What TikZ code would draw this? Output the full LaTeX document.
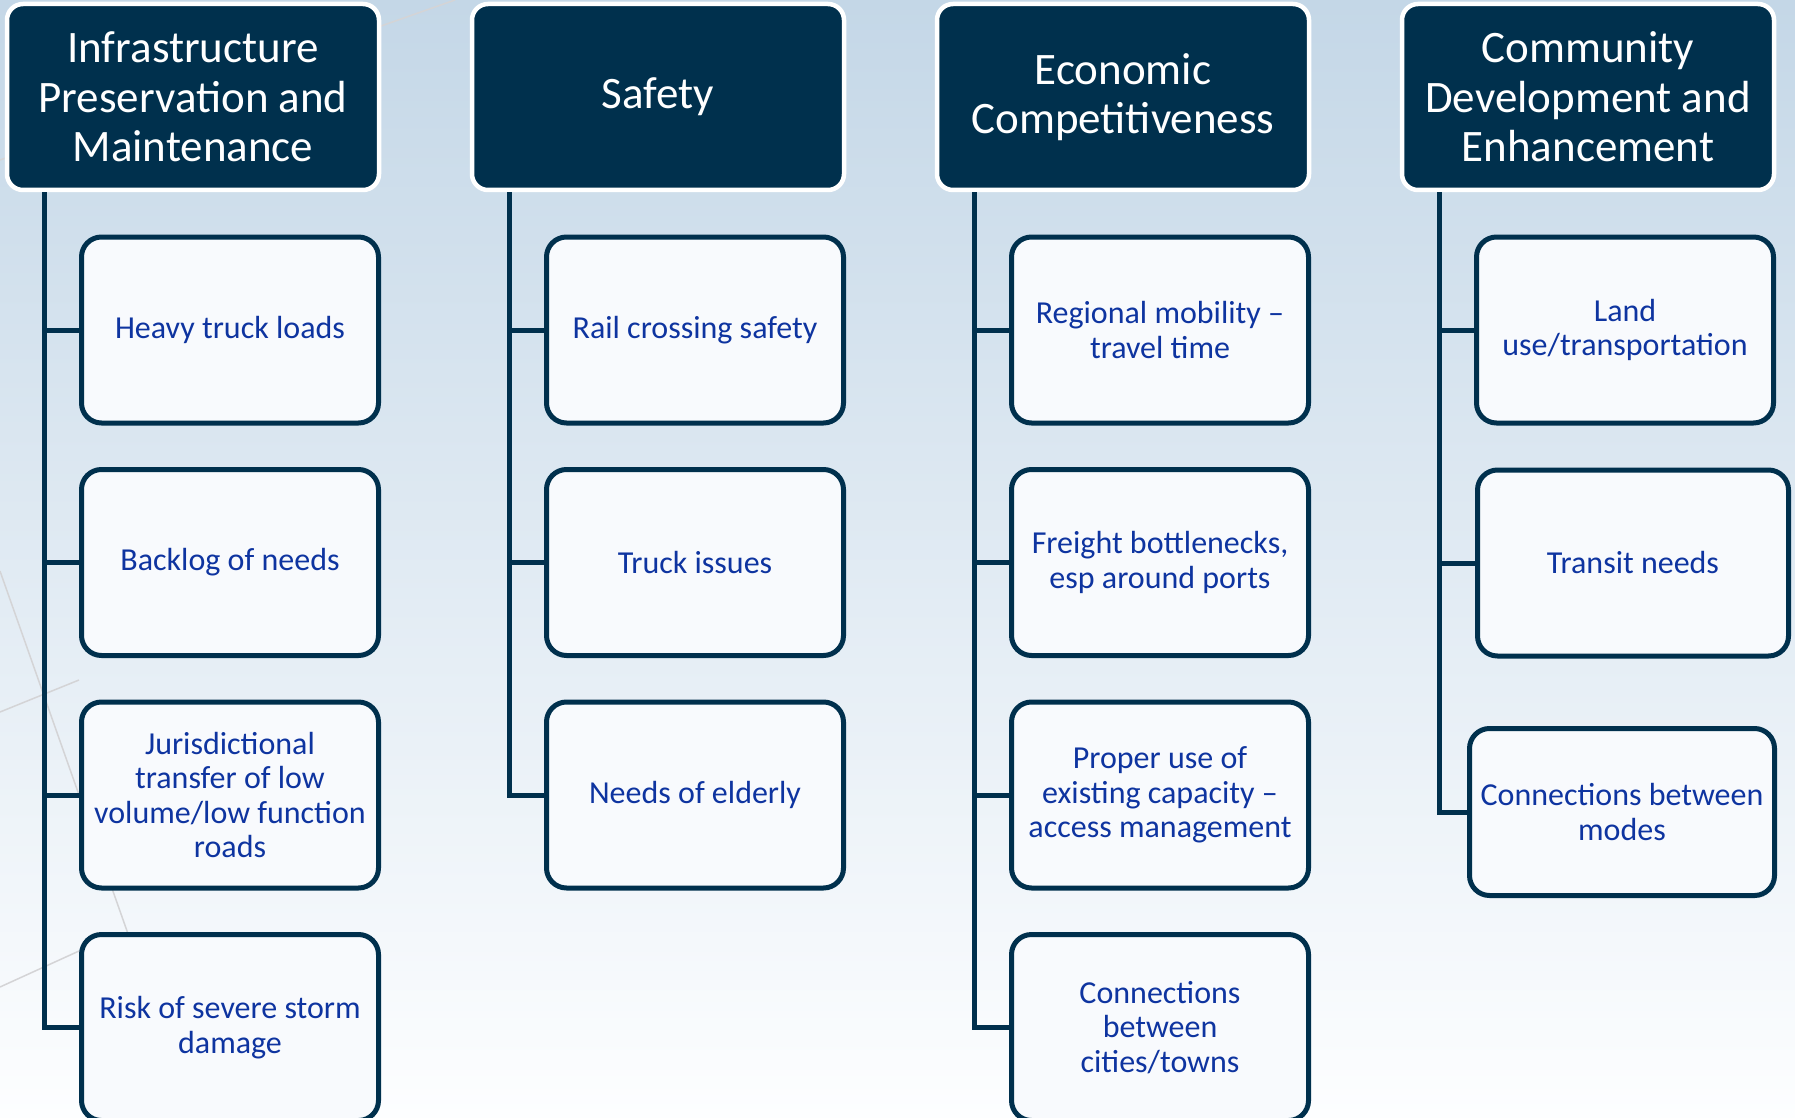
\documentclass[tikz,border=0pt]{standalone}
\usepackage{fontspec}
\setmainfont{Carlito}
\usepackage{tikz}

\definecolor{navy}{RGB}{0,48,77}
\definecolor{itemblue}{RGB}{14,52,160}
\definecolor{itemfill}{RGB}{248,250,253}
\definecolor{skytop}{RGB}{196,215,231}
\definecolor{skybot}{RGB}{253,254,255}
\definecolor{streak}{RGB}{212,212,214}

\begin{document}
\begin{tikzpicture}[x=1pt, y=-1pt,
        head/.style={rounded corners=16pt, fill=navy, draw=white, line width=4.5pt,
            minimum width=372pt, minimum height=186pt, inner sep=0pt,
            text=white, align=center, font=\fontsize{45}{49.6}\selectfont},
        item/.style={rounded corners=20pt, fill=itemfill, draw=navy, line width=5pt,
            minimum width=297pt, minimum height=186pt, inner sep=0pt,
            text=itemblue, align=center, font=\fontsize{32}{34.6}\selectfont},
        link/.style={draw=navy, line width=5pt},
        faint/.style={draw=streak, line width=1.5pt}]
        \useasboundingbox (0,0) rectangle (1795,1118);
        \shade[top color=skytop, bottom color=skybot] (0,0) rectangle (1795,1118);
        \draw[faint] (0,160) -- (455,0);
        \draw[faint] (0,571) -- (193,1118);
        \draw[faint] (0,712) -- (79,680);
        \draw[faint] (0,987) -- (79,951);

        % category headers
        \node[head] (hd1) at (193,97) {Infrastructure\\Preservation and\\Maintenance};
        \node[head] (hd2) at (658,97) {Safety};
        \node[head] (hd3) at (1123,97) {Economic\\Competitiveness};
        \node[head] (hd4) at (1588,97) {Community\\Development and\\Enhancement};

        % needs under each header
        \foreach \txt [count=\k] in {{Heavy truck loads}, {Backlog of needs},
                {Jurisdictional\\transfer of low\\volume/low function\\roads},
                {Risk of severe storm\\damage}}{
            \node[item] (c1-\k) at (230, 97.5+232.5*\k) {\txt};
        }
        \foreach \txt [count=\k] in {{Rail crossing safety}, {Truck issues}, {Needs of elderly}}{
            \node[item] (c2-\k) at (695, 97.5+232.5*\k) {\txt};
        }
        \foreach \txt [count=\k] in {{Regional mobility --\\travel time},
                {Freight bottlenecks,\\esp around ports},
                {Proper use of\\existing capacity --\\access management},
                {Connections\\between\\cities/towns}}{
            \node[item] (c3-\k) at (1160, 97.5+232.5*\k) {\txt};
        }
        \node[item] (c4-1) at (1625,330) {Land\\use/transportation};
        \node[item, minimum width=311pt] (c4-2) at (1633,563) {Transit needs};
        \node[item, minimum width=305pt, minimum height=167pt] (c4-3) at (1622,812) {Connections between\\modes};

        % spines and branches
        \foreach \c/\n in {1/4, 2/3, 3/4, 4/3}{
            \path (hd\c.south west) ++(39.5,0) coordinate (sp\c);
            \draw[link] (sp\c) |- (c\c-\n.west);
        }
        \foreach \c/\k in {1/1, 1/2, 1/3, 2/1, 2/2, 3/1, 3/2, 3/3, 4/1, 4/2}{
            \draw[link] (c\c-\k.west) -- (c\c-\k.west -| sp\c);
        }
    \end{tikzpicture}
\end{document}
